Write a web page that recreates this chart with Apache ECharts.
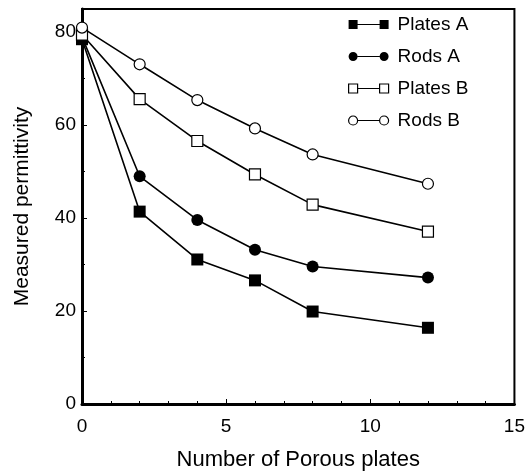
<!DOCTYPE html>
<html>
<head>
<meta charset="utf-8">
<script src="https://cdn.jsdelivr.net/npm/echarts@6/dist/echarts.min.js"></script>
<style>
  html, body { margin: 0; padding: 0; background: #fff; }
  #chart { width: 528px; height: 476px; }
</style>
</head>
<body>
<div id="chart"></div>
<script>
const plates = [0, 2, 4, 6, 8, 12]
const platesA = [78.5, 41.4, 31.1, 26.6, 19.9, 16.4]
const rodsA = [79, 49, 39.6, 33.2, 29.6, 27.2]
const platesB = [79.5, 65.6, 56.6, 49.4, 42.9, 37.1]
const rodsB = [81, 73.1, 65.4, 59.3, 53.7, 47.4]

const FONT = 'Liberation Sans, Arial, sans-serif'

// legend icons: marker - line - marker
const sqFilledIcon = 'path://M0,0H9V9H0Z M9,4H31V5H9Z M31,0H40V9H31Z'
const ciFilledIcon = 'path://M0,4.5a4.5,4.5 0 1,0 9,0a4.5,4.5 0 1,0 -9,0Z M9,4H31V5H9Z M31,4.5a4.5,4.5 0 1,0 9,0a4.5,4.5 0 1,0 -9,0Z'
const sqHollowIcon = 'path://M0,0H9V9H0Z M9,4.5L31,4.5 M31,0H40V9H31Z'
const ciHollowIcon = 'path://M0,4.5a4.5,4.5 0 1,0 9,0a4.5,4.5 0 1,0 -9,0Z M9,4.5L31,4.5 M31,4.5a4.5,4.5 0 1,0 9,0a4.5,4.5 0 1,0 -9,0Z'

const filled = { color: '#000', borderColor: '#000', borderWidth: 0 }
const hollow = { color: '#fff', borderColor: '#000', borderWidth: 1.2 }

function pairs(values) {
  return plates.map((x, i) => [x, values[i]])
}

function makeSeries(name, values, symbol, style, size) {
  return {
    name,
    type: 'line',
    data: pairs(values),
    symbol,
    symbolSize: size,
    showSymbol: true,
    animation: false,
    lineStyle: { color: '#000', width: 1.6 },
    itemStyle: style,
  }
}

const chart = echarts.init(document.getElementById('chart'), null, { renderer: 'canvas' })

chart.setOption({
  animation: false,
  textStyle: { fontFamily: FONT, color: '#000' },
  grid: {
    left: 82, right: 13, top: 9, bottom: 65,
    show: true, borderColor: '#000', borderWidth: 2,
  },
  legend: {
    orient: 'vertical',
    left: 343,
    top: 9,
    itemWidth: 40,
    itemHeight: 9,
    itemGap: 11,
    symbolKeepAspect: false,
    textStyle: { fontFamily: FONT, fontSize: 19, color: '#000', lineHeight: 21, padding: [0, 0, 0, 4] },
    data: [
      { name: 'Plates A', icon: sqFilledIcon, itemStyle: filled },
      { name: 'Rods A', icon: ciFilledIcon, itemStyle: filled },
      { name: 'Plates B', icon: sqHollowIcon, itemStyle: hollow },
      { name: 'Rods B', icon: ciHollowIcon, itemStyle: hollow },
    ],
  },
  xAxis: {
    type: 'value',
    min: 0,
    max: 15,
    interval: 5,
    name: 'Number of Porous plates',
    nameLocation: 'middle',
    nameGap: 45,
    nameTextStyle: { fontFamily: FONT, fontSize: 22, color: '#000' },
    axisLine: { show: true, onZero: false, lineStyle: { color: '#000', width: 3 } },
    axisTick: { show: true, inside: true, length: 5, lineStyle: { color: '#000', width: 1 } },
    minorTick: { show: true, splitNumber: 5, length: 3, lineStyle: { color: '#000', width: 1 } },
    axisLabel: { fontFamily: FONT, fontSize: 19, color: '#000', margin: 13 },
    splitLine: { show: false },
  },
  yAxis: {
    type: 'value',
    min: 0,
    max: 85,
    interval: 20,
    name: 'Measured permittivity',
    nameLocation: 'middle',
    nameGap: 49,
    nameTextStyle: { fontFamily: FONT, fontSize: 21, color: '#000' },
    axisLine: { show: true, onZero: false, lineStyle: { color: '#000', width: 3 } },
    axisTick: { show: true, inside: true, length: 5, lineStyle: { color: '#000', width: 1 } },
    minorTick: { show: true, splitNumber: 2, length: 3, lineStyle: { color: '#000', width: 1 } },
    axisLabel: { fontFamily: FONT, fontSize: 19, color: '#000', margin: 6, showMaxLabel: false },
    splitLine: { show: false },
  },
  series: [
    makeSeries('Plates A', platesA, 'rect', filled, 12),
    makeSeries('Rods A', rodsA, 'circle', filled, 12),
    makeSeries('Plates B', platesB, 'rect', hollow, 11),
    makeSeries('Rods B', rodsB, 'circle', hollow, 11),
  ],
})
</script>
</body>
</html>
